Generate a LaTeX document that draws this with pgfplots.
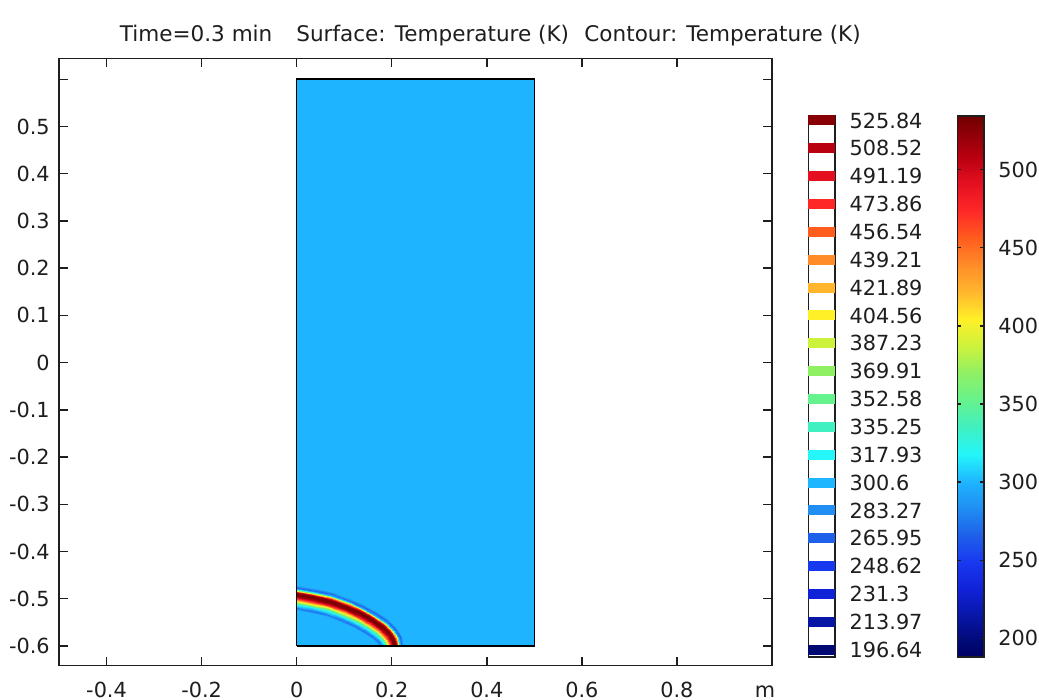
\documentclass[border=0pt]{standalone}
\usepackage{pgfplots}
\pgfplotsset{compat=1.18}
\usepackage{pgfplotstable}
\usepackage{fontspec}
\setmainfont{DejaVu Sans}

% Rainbow colour table, knots placed at temperature values (K)
\pgfplotsset{
  colormap={comsolrainbow}{
    rgb255(187.98pt)=(0,0,100)
    rgb255(196.64pt)=(0,8,115)
    rgb255(213.97pt)=(8,22,165)
    rgb255(231.3pt)=(16,34,216)
    rgb255(248.62pt)=(24,56,240)
    rgb255(265.95pt)=(30,96,234)
    rgb255(283.27pt)=(32,142,242)
    rgb255(300pt)=(30,180,255)
    rgb255(317.93pt)=(36,246,250)
    rgb255(335.25pt)=(64,240,192)
    rgb255(352.58pt)=(102,242,140)
    rgb255(369.91pt)=(144,240,100)
    rgb255(387.23pt)=(205,242,60)
    rgb255(404.56pt)=(255,240,40)
    rgb255(421.89pt)=(255,182,45)
    rgb255(439.21pt)=(255,140,40)
    rgb255(456.54pt)=(255,92,30)
    rgb255(473.86pt)=(255,40,40)
    rgb255(491.19pt)=(228,16,32)
    rgb255(508.52pt)=(184,0,16)
    rgb255(534.49pt)=(112,0,0)
  }
}
\definecolor{domainblue}{RGB}{30,180,255}
\definecolor{labelgray}{RGB}{30,30,30}

% flat marker used for the contour level swatches
\pgfdeclareplotmark{levelstripe}{%
  \pgfpathrectangle{\pgfpoint{-6.675pt}{-2.5pt}}{\pgfpoint{13.35pt}{5pt}}%
  \pgfusepathqfill}

% Temperature across the front: centre line point (cx,cy), outward normal
% (nx,ny), offset d along the normal (m) and temperature T (K)
\pgfplotstableread{
cx cy nx ny d T
0.206 -0.600 1.000 0.000 0.020 300
0.206 -0.600 1.000 0.000 0.0145 268
0.206 -0.600 1.000 0.000 0.011 305
0.206 -0.600 1.000 0.000 0.008 400
0.206 -0.600 1.000 0.000 0.005 490
0.206 -0.600 1.000 0.000 0.002 528
0.206 -0.600 1.000 0.000 -0.002 532
0.206 -0.600 1.000 0.000 -0.006 512
0.206 -0.600 1.000 0.000 -0.010 465
0.206 -0.600 1.000 0.000 -0.014 410
0.206 -0.600 1.000 0.000 -0.018 360
0.206 -0.600 1.000 0.000 -0.022 318
0.206 -0.600 1.000 0.000 -0.026 298
0.206 -0.600 1.000 0.000 -0.0295 272
0.206 -0.600 1.000 0.000 -0.034 300
0.203 -0.587 0.921 0.390 0.020 300
0.203 -0.587 0.921 0.390 0.0145 268
0.203 -0.587 0.921 0.390 0.011 305
0.203 -0.587 0.921 0.390 0.008 400
0.203 -0.587 0.921 0.390 0.005 490
0.203 -0.587 0.921 0.390 0.002 528
0.203 -0.587 0.921 0.390 -0.002 532
0.203 -0.587 0.921 0.390 -0.006 512
0.203 -0.587 0.921 0.390 -0.010 465
0.203 -0.587 0.921 0.390 -0.014 410
0.203 -0.587 0.921 0.390 -0.018 360
0.203 -0.587 0.921 0.390 -0.022 318
0.203 -0.587 0.921 0.390 -0.026 298
0.203 -0.587 0.921 0.390 -0.0295 272
0.203 -0.587 0.921 0.390 -0.034 300
0.195 -0.574 0.773 0.635 0.020 300
0.195 -0.574 0.773 0.635 0.0145 268
0.195 -0.574 0.773 0.635 0.011 305
0.195 -0.574 0.773 0.635 0.008 400
0.195 -0.574 0.773 0.635 0.005 490
0.195 -0.574 0.773 0.635 0.002 528
0.195 -0.574 0.773 0.635 -0.002 532
0.195 -0.574 0.773 0.635 -0.006 512
0.195 -0.574 0.773 0.635 -0.010 465
0.195 -0.574 0.773 0.635 -0.014 410
0.195 -0.574 0.773 0.635 -0.018 360
0.195 -0.574 0.773 0.635 -0.022 318
0.195 -0.574 0.773 0.635 -0.026 298
0.195 -0.574 0.773 0.635 -0.0295 272
0.195 -0.574 0.773 0.635 -0.034 300
0.180 -0.559 0.638 0.770 0.020 300
0.180 -0.559 0.638 0.770 0.0145 268
0.180 -0.559 0.638 0.770 0.011 305
0.180 -0.559 0.638 0.770 0.008 400
0.180 -0.559 0.638 0.770 0.005 490
0.180 -0.559 0.638 0.770 0.002 528
0.180 -0.559 0.638 0.770 -0.002 532
0.180 -0.559 0.638 0.770 -0.006 512
0.180 -0.559 0.638 0.770 -0.010 465
0.180 -0.559 0.638 0.770 -0.014 410
0.180 -0.559 0.638 0.770 -0.018 360
0.180 -0.559 0.638 0.770 -0.022 318
0.180 -0.559 0.638 0.770 -0.026 298
0.180 -0.559 0.638 0.770 -0.0295 272
0.180 -0.559 0.638 0.770 -0.034 300
0.160 -0.545 0.528 0.849 0.020 300
0.160 -0.545 0.528 0.849 0.0145 268
0.160 -0.545 0.528 0.849 0.011 305
0.160 -0.545 0.528 0.849 0.008 400
0.160 -0.545 0.528 0.849 0.005 490
0.160 -0.545 0.528 0.849 0.002 528
0.160 -0.545 0.528 0.849 -0.002 532
0.160 -0.545 0.528 0.849 -0.006 512
0.160 -0.545 0.528 0.849 -0.010 465
0.160 -0.545 0.528 0.849 -0.014 410
0.160 -0.545 0.528 0.849 -0.018 360
0.160 -0.545 0.528 0.849 -0.022 318
0.160 -0.545 0.528 0.849 -0.026 298
0.160 -0.545 0.528 0.849 -0.0295 272
0.160 -0.545 0.528 0.849 -0.034 300
0.135 -0.531 0.449 0.894 0.020 300
0.135 -0.531 0.449 0.894 0.0145 268
0.135 -0.531 0.449 0.894 0.011 305
0.135 -0.531 0.449 0.894 0.008 400
0.135 -0.531 0.449 0.894 0.005 490
0.135 -0.531 0.449 0.894 0.002 528
0.135 -0.531 0.449 0.894 -0.002 532
0.135 -0.531 0.449 0.894 -0.006 512
0.135 -0.531 0.449 0.894 -0.010 465
0.135 -0.531 0.449 0.894 -0.014 410
0.135 -0.531 0.449 0.894 -0.018 360
0.135 -0.531 0.449 0.894 -0.022 318
0.135 -0.531 0.449 0.894 -0.026 298
0.135 -0.531 0.449 0.894 -0.0295 272
0.135 -0.531 0.449 0.894 -0.034 300
0.105 -0.5174 0.371 0.928 0.020 300
0.105 -0.5174 0.371 0.928 0.0145 268
0.105 -0.5174 0.371 0.928 0.011 305
0.105 -0.5174 0.371 0.928 0.008 400
0.105 -0.5174 0.371 0.928 0.005 490
0.105 -0.5174 0.371 0.928 0.002 528
0.105 -0.5174 0.371 0.928 -0.002 532
0.105 -0.5174 0.371 0.928 -0.006 512
0.105 -0.5174 0.371 0.928 -0.010 465
0.105 -0.5174 0.371 0.928 -0.014 410
0.105 -0.5174 0.371 0.928 -0.018 360
0.105 -0.5174 0.371 0.928 -0.022 318
0.105 -0.5174 0.371 0.928 -0.026 298
0.105 -0.5174 0.371 0.928 -0.0295 272
0.105 -0.5174 0.371 0.928 -0.034 300
0.070 -0.505 0.280 0.960 0.020 300
0.070 -0.505 0.280 0.960 0.0145 268
0.070 -0.505 0.280 0.960 0.011 305
0.070 -0.505 0.280 0.960 0.008 400
0.070 -0.505 0.280 0.960 0.005 490
0.070 -0.505 0.280 0.960 0.002 528
0.070 -0.505 0.280 0.960 -0.002 532
0.070 -0.505 0.280 0.960 -0.006 512
0.070 -0.505 0.280 0.960 -0.010 465
0.070 -0.505 0.280 0.960 -0.014 410
0.070 -0.505 0.280 0.960 -0.018 360
0.070 -0.505 0.280 0.960 -0.022 318
0.070 -0.505 0.280 0.960 -0.026 298
0.070 -0.505 0.280 0.960 -0.0295 272
0.070 -0.505 0.280 0.960 -0.034 300
0.035 -0.497 0.190 0.982 0.020 300
0.035 -0.497 0.190 0.982 0.0145 268
0.035 -0.497 0.190 0.982 0.011 305
0.035 -0.497 0.190 0.982 0.008 400
0.035 -0.497 0.190 0.982 0.005 490
0.035 -0.497 0.190 0.982 0.002 528
0.035 -0.497 0.190 0.982 -0.002 532
0.035 -0.497 0.190 0.982 -0.006 512
0.035 -0.497 0.190 0.982 -0.010 465
0.035 -0.497 0.190 0.982 -0.014 410
0.035 -0.497 0.190 0.982 -0.018 360
0.035 -0.497 0.190 0.982 -0.022 318
0.035 -0.497 0.190 0.982 -0.026 298
0.035 -0.497 0.190 0.982 -0.0295 272
0.035 -0.497 0.190 0.982 -0.034 300
0.000 -0.491 0.000 1.000 0.020 300
0.000 -0.491 0.000 1.000 0.0145 268
0.000 -0.491 0.000 1.000 0.011 305
0.000 -0.491 0.000 1.000 0.008 400
0.000 -0.491 0.000 1.000 0.005 490
0.000 -0.491 0.000 1.000 0.002 528
0.000 -0.491 0.000 1.000 -0.002 532
0.000 -0.491 0.000 1.000 -0.006 512
0.000 -0.491 0.000 1.000 -0.010 465
0.000 -0.491 0.000 1.000 -0.014 410
0.000 -0.491 0.000 1.000 -0.018 360
0.000 -0.491 0.000 1.000 -0.022 318
0.000 -0.491 0.000 1.000 -0.026 298
0.000 -0.491 0.000 1.000 -0.0295 272
0.000 -0.491 0.000 1.000 -0.034 300
}\frontdata

% contour levels (K)
\pgfplotstableread{
x k T
0.5 0 196.64
0.5 1 213.97
0.5 2 231.3
0.5 3 248.62
0.5 4 265.95
0.5 5 283.27
0.5 6 300.6
0.5 7 317.93
0.5 8 335.25
0.5 9 352.58
0.5 10 369.91
0.5 11 387.23
0.5 12 404.56
0.5 13 421.89
0.5 14 439.21
0.5 15 456.54
0.5 16 473.86
0.5 17 491.19
0.5 18 508.52
0.5 19 525.84
}\leveldata

\newcommand{\labfont}{\fontsize{10.4}{12}\selectfont}

\begin{document}
\begin{tikzpicture}
\path[use as bounding box] (0pt,0pt) rectangle (519.5pt,-350pt);

\node[anchor=base west, inner sep=0pt, text=labelgray,
      font=\fontsize{10.77}{12}\selectfont] at (59.75pt,-21pt)
  {Time=0.3 min\hspace{12pt}Surface: Temperature (K)\hspace{7.7pt}Contour: Temperature (K)};

\begin{axis}[
  at={(29.5pt,-332.75pt)}, anchor=south west,
  scale only axis, width=356.5pt, height=303.5pt,
  view={0}{90},
  xmin=-0.5, xmax=1.0, ymin=-0.6415, ymax=0.644, zmin=-1, zmax=1,
  ztick=\empty,
  xtick={-0.4,-0.2,0,0.2,0.4,0.6,0.8},
  xticklabels={-0.4,-0.2,0,0.2,0.4,0.6,0.8},
  ytick={-0.6,-0.5,-0.4,-0.3,-0.2,-0.1,0,0.1,0.2,0.3,0.4,0.5,0.6},
  yticklabels={-0.6,-0.5,-0.4,-0.3,-0.2,-0.1,0,0.1,0.2,0.3,0.4,0.5,{}},
  xtick pos=both, ytick pos=both,
  xticklabel pos=left, yticklabel pos=left,
  tick align=inside, major tick length=4.5pt,
  axis line style={line width=0.8pt, labelgray},
  every tick/.style={line width=0.7pt, labelgray},
  tick label style={font=\labfont, text=labelgray, inner sep=0pt},
  xticklabel style={anchor=base, yshift=-15.75pt},
  yticklabel style={anchor=east, xshift=-4.5pt},
  colormap name=comsolrainbow,
  point meta min=187.98, point meta max=534.49,
  colorbar,
  colorbar style={
    at={(parent axis.north east)}, anchor=north west,
    xshift=84.2pt, yshift=-28.75pt,
    scale only axis, width=13.3pt, height=270.5pt,
    ytick={200,250,300,350,400,450,500},
    yticklabels={200,250,300,350,400,450,500},
    ytick pos=both, yticklabel pos=right,
    tick align=inside, major tick length=1.8pt,
    axis line style={line width=0.8pt, labelgray},
    every tick/.style={line width=0.6pt, labelgray},
    yticklabel style={font=\labfont, text=labelgray, anchor=west, inner sep=0pt, xshift=7pt},
  },
]
% computational domain
\addplot3[fill=domainblue, draw=none] coordinates {(0,-0.6,0) (0.5,-0.6,0) (0.5,0.6,0) (0,0.6,0)} -- cycle;
% hot front
\addplot3[surf, shader=interp, mesh/cols=15, point meta=explicit]
  table[x expr=\thisrow{cx}+\thisrow{d}*\thisrow{nx},
        y expr=\thisrow{cy}+\thisrow{d}*\thisrow{ny},
        z expr=0, meta=T] {\frontdata};
% domain boundary
\addplot3[draw=black, line width=0.8pt] coordinates {(0,-0.6,0) (0.5,-0.6,0) (0.5,0.6,0) (0,0.6,0) (0,-0.6,0)};
\end{axis}

\node[anchor=base, inner sep=0pt, text=labelgray, font=\labfont] at (382.5pt,-348.5pt) {m};

% contour level legend
\begin{axis}[
  at={(404.15pt,-328.5pt)}, anchor=south west,
  scale only axis, width=13.35pt, height=270.5pt,
  xmin=0, xmax=1, ymin=-0.26, ymax=19.16,
  xtick=\empty,
  ytick={0,1,2,3,4,5,6,7,8,9,10,11,12,13,14,15,16,17,18,19},
  yticklabels={196.64,213.97,231.3,248.62,265.95,283.27,300.6,317.93,335.25,352.58,369.91,387.23,404.56,421.89,439.21,456.54,473.86,491.19,508.52,525.84},
  ytick pos=both, yticklabel pos=right,
  tick align=inside, major tick length=1.8pt,
  axis on top,
  axis line style={line width=0.8pt, labelgray},
  every tick/.style={line width=0.6pt, labelgray},
  yticklabel style={font=\labfont, text=labelgray, anchor=west, inner sep=0pt, xshift=7.15pt},
  colormap name=comsolrainbow,
  point meta min=187.98, point meta max=534.49,
]
\addplot[scatter, only marks, mark=levelstripe, scatter src=explicit,
  scatter/use mapped color={draw=none, fill=mapped color}]
  table[x=x, y=k, meta=T] {\leveldata};
\end{axis}
\end{tikzpicture}
\end{document}
